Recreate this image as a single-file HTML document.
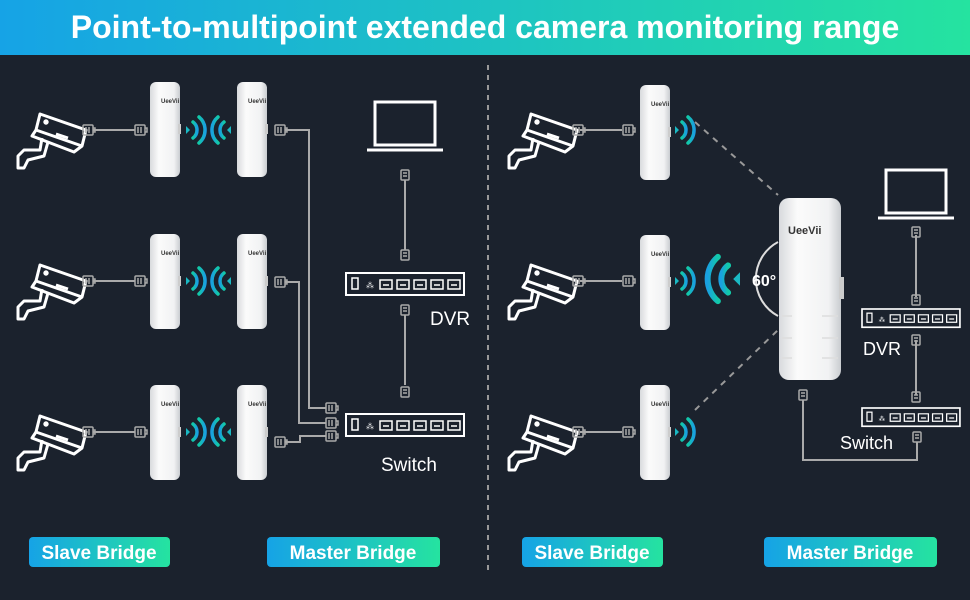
<!DOCTYPE html>
<html><head><meta charset="utf-8"><style>
html,body{margin:0;padding:0;background:#1b222d;}
svg{display:block;font-family:"Liberation Sans",sans-serif;}
</style></head><body>
<svg width="970" height="600" viewBox="0 0 970 600" xmlns="http://www.w3.org/2000/svg">
<defs>
<linearGradient id="hg" x1="0" x2="1"><stop offset="0" stop-color="#16a3e6"/><stop offset="1" stop-color="#25e3a0"/></linearGradient>
<linearGradient id="wg" x1="0" x2="1"><stop offset="0" stop-color="#12c9a8"/><stop offset="1" stop-color="#1aa0e0"/></linearGradient>
<linearGradient id="dev" x1="0" x2="1"><stop offset="0" stop-color="#d8dadd"/><stop offset=".3" stop-color="#fbfbfb"/><stop offset=".8" stop-color="#f1f2f3"/><stop offset="1" stop-color="#c9ccd0"/></linearGradient>
<g id="cam" fill="none" stroke="#fff" stroke-width="3" stroke-linejoin="round">
 <path d="M24 14 L70 30 L66 46 L20 30 Z"/><path d="M66 46 L58 52 L16 36 L20 30"/>
 <path d="M26 38 L24 50 L8 50 L2 56 L2 68 L8 68 L12 60 L28 56 L32 42"/>
 <circle cx="30" cy="22" r="1.2" fill="#fff"/>
 <path d="M40 34 L52 38"/>
</g>
<g id="plug" fill="none" stroke="#aaa" stroke-width="1.5"><rect x="-5" y="-5" width="10" height="10" rx="1"/><path d="M-2 -3v6M1 -3v6M5 -2h2v4h-2"/></g>
<g id="vplug" fill="none" stroke="#aaa" stroke-width="1.5"><rect x="-4" y="-5" width="8" height="10" rx="1"/><path d="M-2 -2h4M-2 1h4"/></g>
<g id="dv">
 <rect x="0" y="0" width="30" height="95" rx="6" fill="url(#dev)"/>
 <text x="11" y="21" font-size="6" font-weight="bold" fill="#333">UeeVii</text>
 <rect x="28" y="42" width="3" height="10" fill="#ccc"/>
</g>
<g id="box" fill="none" stroke="#fff" stroke-width="2">
 <rect x="0" y="0" width="118" height="22"/>
 <rect x="6" y="5" width="6" height="11" stroke-width="1.5"/>
 <text x="20" y="15" font-size="8" fill="#fff" stroke="none">⁂</text>
 <g stroke-width="1.5"><path d="M34 16v-9h12v9zM37 12h6"/><path d="M51 16v-9h12v9zM54 12h6"/><path d="M68 16v-9h12v9zM71 12h6"/><path d="M85 16v-9h12v9zM88 12h6"/><path d="M102 16v-9h12v9zM105 12h6"/></g>
</g>
<g id="waveR" fill="none" stroke="url(#wg)" stroke-width="3.5" stroke-linecap="round"><path d="M0 -4 L4 0 L0 4Z" fill="#1ab9c4" stroke="none"/><path d="M7 -8 A10 10 0 0 1 7 8"/><path d="M13 -13 A17 17 0 0 1 13 13"/></g>
<g id="waveL" transform="scale(-1,1)"><use href="#waveR"/></g>
<g id="laptop" fill="none" stroke="#fff" stroke-width="3"><rect x="8" y="2" width="60" height="43"/><path d="M0 50h76" stroke-width="3"/></g>
</defs>

<rect width="970" height="600" fill="#1b222d"/>
<rect width="970" height="55" fill="url(#hg)"/>
<text x="485" y="38" text-anchor="middle" font-size="32" font-weight="bold" fill="#fff">Point-to-multipoint extended camera monitoring range</text>
<line x1="488" y1="65" x2="488" y2="575" stroke="#999" stroke-width="2" stroke-dasharray="5,5"/>

<!-- LEFT -->
<g stroke="#aaa" stroke-width="2" fill="none">
 <path d="M93 130H135"/><path d="M93 281H135"/><path d="M93 432H135"/>
 <path d="M285 130H309V408H326"/><path d="M285 282H299V423H326"/><path d="M285 442H300V436H326"/>
 <path d="M405 180V250"/><path d="M405 315V385"/>
</g>
<use href="#cam" x="16" y="100"/><use href="#cam" x="16" y="251"/><use href="#cam" x="16" y="402"/>
<use href="#plug" x="88" y="130"/><use href="#plug" x="140" y="130"/><use href="#plug" x="88" y="281"/><use href="#plug" x="140" y="281"/><use href="#plug" x="88" y="432"/><use href="#plug" x="140" y="432"/>
<use href="#plug" x="280" y="130"/><use href="#plug" x="280" y="282"/><use href="#plug" x="280" y="442"/>
<use href="#plug" x="331" y="408"/><use href="#plug" x="331" y="423"/><use href="#plug" x="331" y="436"/>
<use href="#dv" x="150" y="82"/><use href="#dv" x="237" y="82"/>
<use href="#dv" x="150" y="234"/><use href="#dv" x="237" y="234"/>
<use href="#dv" x="150" y="385"/><use href="#dv" x="237" y="385"/>
<use href="#waveR" x="186" y="130"/><use href="#waveL" x="231" y="130"/>
<use href="#waveR" x="186" y="281"/><use href="#waveL" x="231" y="281"/>
<use href="#waveR" x="186" y="432"/><use href="#waveL" x="231" y="432"/>
<use href="#laptop" x="367" y="100"/>
<use href="#vplug" x="405" y="175"/><use href="#vplug" x="405" y="255"/><use href="#vplug" x="405" y="310"/><use href="#vplug" x="405" y="392"/>
<use href="#box" x="346" y="273"/><use href="#box" x="346" y="414"/>
<text x="430" y="325" font-size="19" fill="#fff">DVR</text>
<text x="381" y="471" font-size="19" fill="#fff">Switch</text>

<!-- RIGHT -->
<g stroke="#aaa" stroke-width="2" fill="none">
 <path d="M580 130H622"/><path d="M580 281H622"/><path d="M580 432H622"/>
 <path d="M803 400V460H917V442"/><path d="M916 235V297"/><path d="M916 340V395"/>
</g>
<g stroke="#999" stroke-width="2" stroke-dasharray="6,6" fill="none"><path d="M695 122L778 195"/><path d="M695 410L778 330"/></g>
<use href="#cam" x="507" y="100"/><use href="#cam" x="507" y="251"/><use href="#cam" x="507" y="402"/>
<use href="#plug" x="578" y="130"/><use href="#plug" x="628" y="130"/><use href="#plug" x="578" y="281"/><use href="#plug" x="628" y="281"/><use href="#plug" x="578" y="432"/><use href="#plug" x="628" y="432"/>
<use href="#dv" x="640" y="85"/><use href="#dv" x="640" y="235"/><use href="#dv" x="640" y="385"/>
<use href="#waveR" x="675" y="130"/><use href="#waveR" x="675" y="281"/><use href="#waveR" x="675" y="432"/>
<path d="M778 242 A42 42 0 0 0 778 316" fill="none" stroke="#ddd" stroke-width="2"/>
<g transform="translate(740,279) scale(-1.7,1.7)"><use href="#waveR"/></g>
<text x="752" y="286" font-size="16" font-weight="bold" fill="#fff">60°</text>
<rect x="779" y="198" width="62" height="182" rx="10" fill="url(#dev)"/>
<rect x="839" y="277" width="5" height="22" fill="#ccc"/>
<text x="788" y="234" font-size="11" font-weight="bold" fill="#333">UeeVii</text>
<g stroke="#ddd" stroke-width="1.5"><path d="M782 316h10M822 316h16M782 338h10M822 338h16M782 358h10M822 358h16"/></g>
<use href="#vplug" x="803" y="395"/>
<use href="#laptop" x="878" y="168"/>
<use href="#vplug" x="916" y="232"/><use href="#vplug" x="916" y="300"/><use href="#vplug" x="916" y="340"/><use href="#vplug" x="916" y="397"/><use href="#vplug" x="917" y="437"/>
<use href="#box" x="862" y="309" transform="translate(862,309) scale(0.83) translate(-862,-309)"/>
<use href="#box" x="862" y="408" transform="translate(862,408) scale(0.83) translate(-862,-408)"/>
<text x="863" y="355" font-size="18" fill="#fff">DVR</text>
<text x="840" y="449" font-size="18" fill="#fff">Switch</text>

<!-- buttons -->
<g font-size="19" font-weight="bold" fill="#fff" text-anchor="middle">
 <rect x="29" y="537" width="141" height="30" rx="4" fill="url(#hg)"/><text x="99" y="559">Slave Bridge</text>
 <rect x="267" y="537" width="173" height="30" rx="4" fill="url(#hg)"/><text x="353" y="559">Master Bridge</text>
 <rect x="522" y="537" width="141" height="30" rx="4" fill="url(#hg)"/><text x="592" y="559">Slave Bridge</text>
 <rect x="764" y="537" width="173" height="30" rx="4" fill="url(#hg)"/><text x="850" y="559">Master Bridge</text>
</g>
</svg>
</body></html>
